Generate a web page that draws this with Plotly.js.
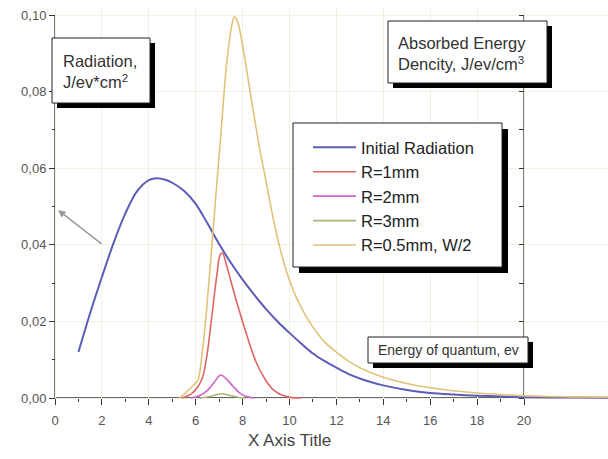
<!DOCTYPE html>
<html>
<head>
<meta charset="utf-8">
<script src="https://cdn.plot.ly/plotly-3.0.1.min.js"></script>
<style>html,body{margin:0;padding:0;background:#fff;}#chart{width:608px;height:459px;}</style>
</head>
<body>
<div id="chart"></div>
<script>
// ---- data ----
const seriesNames = ['Initial Radiation', 'R=1mm', 'R=2mm', 'R=3mm', 'R=0.5mm, W/2'];

const initX = [1,1.5,2,2.5,3,3.5,4,4.35,4.7,5,5.5,6,6.5,7,7.5,8,8.5,9,9.5,10,10.5,11,11.5,12,12.5,13,13.5,14,15,16,17,18,19,20,22,23.6];
const initY = [0.012,0.0222,0.0316,0.0405,0.0482,0.0540,0.0569,0.0574,0.0570,0.0562,0.0541,0.0507,0.0456,0.0402,0.0353,0.0309,0.0269,0.0232,0.0199,0.0170,0.0142,0.0116,0.0096,0.0079,0.0063,0.0051,0.0041,0.0033,0.0021,0.0013,0.0009,0.0006,0.0004,0.0002,0.0001,0.00005];

const r1X = [5.4,5.8,6.1,6.3,6.5,6.7,6.9,7.05,7.15,7.3,7.5,7.8,8.2,8.6,9.0,9.3,9.7,10.1,10.5];
const r1Y = [0,0.001,0.003,0.0055,0.012,0.022,0.032,0.0375,0.0378,0.035,0.0305,0.024,0.016,0.009,0.0045,0.0022,0.0007,0.0001,0];

const r2X = [5.8,6.2,6.5,6.8,7.0,7.1,7.3,7.6,7.9,8.2,8.5];
const r2Y = [0,0.0007,0.002,0.0042,0.0058,0.006,0.005,0.003,0.0012,0.0003,0];

const r3X = [6.2,6.6,6.9,7.1,7.4,7.8,8.1];
const r3Y = [0,0.0004,0.0009,0.0011,0.0008,0.0002,0];

const r05X = [5.3,5.6,6.0,6.1,6.3,6.45,6.6,6.9,7.05,7.3,7.5,7.65,7.8,8.0,8.4,8.7,9.0,9.3,9.6,9.9,10.2,10.6,11.0,11.5,12.0,12.5,13.0,13.9,15.3,16.7,18,19,20,21,22,23.6];
const r05Y = [0,0.0015,0.004,0.0047,0.013,0.022,0.033,0.056,0.067,0.086,0.096,0.0995,0.098,0.092,0.077,0.066,0.0565,0.047,0.039,0.0325,0.0275,0.0225,0.0185,0.0146,0.0120,0.0097,0.0079,0.0056,0.0034,0.0021,0.0013,0.0009,0.0006,0.0004,0.0003,0.0002];

const xTickVals = [0,2,4,6,8,10,12,14,16,18,20];
const xTickText = ['0','2','4','6','8','10','12','14','16','18','20'];
const xMinorVals = [1,3,5,7,9,11,13,15,17,19];
const yTickVals = [0,0.02,0.04,0.06,0.08,0.10];
const yTickText = ['0,00','0,02','0,04','0,06','0,08','0,10'];
const yMinorVals = [0.01,0.03,0.05,0.07,0.09];
const rightTickVals = [0,0.01,0.02,0.03,0.04,0.05,0.06,0.07,0.08,0.09,0.10];

// ---- geometry ----
const W = 608, H = 459;
const ML = 50, MR = 0, MT = 8, MB = 50;
const PX_X = 23.45, X0PIX = 55;   // pixels per x unit, pixel of x=0
const PX_Y = 3830, Y0PIX = 398;   // pixels per y unit, pixel of y=0
const xr = [(ML - X0PIX) / PX_X, (W - MR - X0PIX) / PX_X];
const yr = [(Y0PIX - (H - MB)) / PX_Y, (Y0PIX - MT) / PX_Y];
const pw = W - ML - MR, ph = H - MT - MB;
const px = p => (p - ML) / pw;
const py = p => (H - MB - p) / ph;

const FONT = 'Liberation Sans, Arial, sans-serif';
const colors = ['#5c5cb8', '#e06666', '#cc66cc', '#a8b878', '#e2c27a'];
const widths = [2, 1.6, 1.6, 1.6, 1.6];
const xs = [initX, r1X, r2X, r3X, r05X];
const ys = [initY, r1Y, r2Y, r3Y, r05Y];

const traces = seriesNames.map((n, i) => ({
  x: xs[i], y: ys[i], name: n, type: 'scatter', mode: 'lines',
  line: {color: colors[i], width: widths[i], shape: 'spline', smoothing: 0.9},
  legendgroup: 'g' + i, hoverinfo: 'skip'
}));
traces.push({x: [20], y: [0], yaxis: 'y2', mode: 'lines', showlegend: false, hoverinfo: 'skip'});

function box(x0, y0, x1, y1, sh) {
  return [
    {type: 'rect', xref: 'paper', yref: 'paper', x0: px(x0 + sh), x1: px(x1 + sh), y0: py(y0 + sh), y1: py(y1 + sh),
     fillcolor: '#000', line: {width: 0}, layer: 'above'},
    {type: 'rect', xref: 'paper', yref: 'paper', x0: px(x0), x1: px(x1), y0: py(y0), y1: py(y1),
     fillcolor: '#fff', line: {color: '#222', width: 1}, layer: 'above'}
  ];
}

const shapes = [
  {type: 'line', xref: 'x', yref: 'y', x0: 0, x1: 0, y0: 0, y1: 0.1, line: {color: '#333', width: 1.3}, layer: 'below'},
  {type: 'line', xref: 'x', yref: 'y', x0: 20, x1: 20, y0: 0, y1: 0.1, line: {color: '#333', width: 1.3}, layer: 'below'},
  {type: 'line', xref: 'x', yref: 'y', x0: 0, x1: 20, y0: 0, y1: 0, line: {color: '#333', width: 1.5}, layer: 'below'},
  ...box(52, 38, 150, 103, 5),
  ...box(388, 21, 547, 83, 5),
  ...box(293, 123, 502, 267, 6),
  ...box(368, 337, 528, 363, 5)
];

const annotations = [
  {xref: 'paper', yref: 'paper', x: px(61), y: py(71), xanchor: 'left', yanchor: 'middle', align: 'left', showarrow: false,
   text: 'Radiation,<br>J/ev*cm<sup>2</sup>', font: {family: FONT, size: 16.5, color: '#333'}},
  {xref: 'paper', yref: 'paper', x: px(396), y: py(53), xanchor: 'left', yanchor: 'middle', align: 'left', showarrow: false,
   text: 'Absorbed Energy<br>Dencity, J/ev/cm<sup>3</sup>', font: {family: FONT, size: 16.5, color: '#333'}},
  {xref: 'paper', yref: 'paper', x: px(376), y: py(350), xanchor: 'left', yanchor: 'middle', align: 'left', showarrow: false,
   text: 'Energy of quantum, ev', font: {family: FONT, size: 14, color: '#333'}},
  {xref: 'x', yref: 'paper', x: 10, y: py(440), xanchor: 'center', yanchor: 'middle', showarrow: false,
   text: 'X Axis Title', font: {family: FONT, size: 17, color: '#444'}},
  {xref: 'paper', yref: 'paper', x: px(58), y: py(210), ax: 45, ay: 35, text: '', showarrow: true,
   arrowhead: 2, arrowsize: 1, arrowwidth: 1.5, arrowcolor: '#9a9a9a'}
];

const layout = {
  width: W, height: H,
  margin: {l: ML, r: MR, t: MT, b: MB, pad: 0},
  paper_bgcolor: '#fff', plot_bgcolor: '#fff',
  font: {family: FONT},
  showlegend: true,
  legend: {x: px(308), y: py(130), xanchor: 'left', yanchor: 'top', bgcolor: 'rgba(0,0,0,0)', borderwidth: 0,
           font: {family: FONT, size: 16.5, color: '#222'}, itemwidth: 43, tracegroupgap: 0, traceorder: 'normal'},
  xaxis: {range: xr, anchor: 'free', position: (0 - yr[0]) / (yr[1] - yr[0]), showline: false, zeroline: false,
          tickmode: 'array', tickvals: xTickVals, ticktext: xTickText, ticks: 'outside', ticklen: 6, tickwidth: 1, tickcolor: '#333',
          ticklabelstandoff: 4, tickfont: {family: FONT, size: 13, color: '#555'},
          showgrid: true, gridcolor: '#f1f1e2', gridwidth: 1,
          minor: {tickmode: 'array', tickvals: xMinorVals, ticks: 'outside', ticklen: 3, tickcolor: '#333', showgrid: false}},
  yaxis: {range: yr, anchor: 'free', position: (0 - xr[0]) / (xr[1] - xr[0]), showline: false, zeroline: false,
          tickmode: 'array', tickvals: yTickVals, ticktext: yTickText, ticks: 'outside', ticklen: 6, tickwidth: 1, tickcolor: '#333',
          tickfont: {family: FONT, size: 13, color: '#555'},
          showgrid: true, gridcolor: '#f1f1e2', gridwidth: 1,
          minor: {tickmode: 'array', tickvals: yMinorVals, ticks: 'outside', ticklen: 3, tickcolor: '#333', showgrid: false}},
  yaxis2: {range: yr, overlaying: 'y', anchor: 'free', position: (20 - xr[0]) / (xr[1] - xr[0]), side: 'right',
           showline: false, zeroline: false, showgrid: false, showticklabels: false,
           tickmode: 'array', tickvals: rightTickVals, ticks: 'inside', ticklen: 5, tickcolor: '#333'},
  shapes: shapes,
  annotations: annotations
};

Plotly.newPlot('chart', traces, layout, {staticPlot: true, displayModeBar: false});
</script>
</body>
</html>
